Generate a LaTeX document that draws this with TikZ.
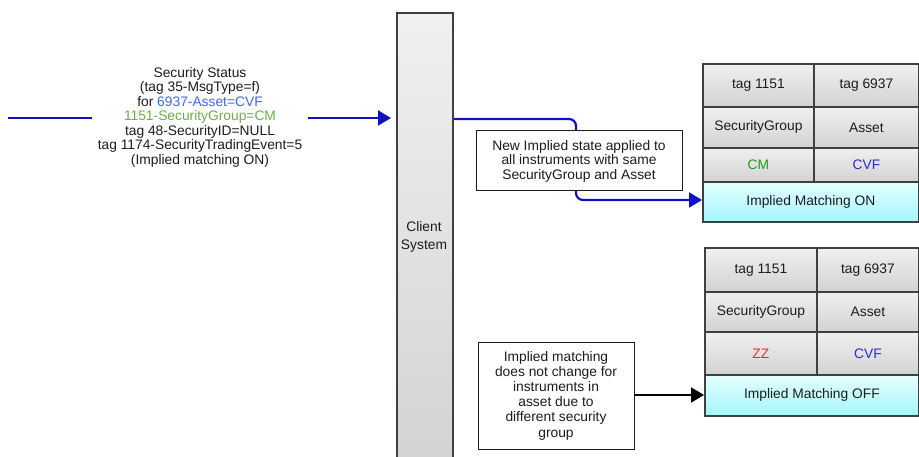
\documentclass[tikz,border=0pt]{standalone}
\usepackage{fontspec}
\setmainfont{Liberation Sans}
\usetikzlibrary{arrows.meta}
\definecolor{txt}{HTML}{1C1C1C}
\definecolor{edge}{HTML}{404040}
\definecolor{lnblue}{HTML}{1010C8}
\definecolor{msgblue}{HTML}{3F66F5}
\definecolor{msggreen}{HTML}{6CAE45}
\definecolor{cmgreen}{HTML}{1E9A1E}
\definecolor{cvfblue}{HTML}{2A2AD0}
\definecolor{zzred}{HTML}{F52A2A}
\definecolor{celltop}{HTML}{F0F0F0}
\definecolor{cellbot}{HTML}{D2D2D2}
\definecolor{cyantop}{HTML}{E4FFFF}
\definecolor{cyanbot}{HTML}{A4F6FC}
\tikzset{
  every node/.style={font=\fontsize{13.8}{14.5}\selectfont, text=txt},
  cell/.style={draw=edge, line width=1.8pt, top color=celltop, bottom color=cellbot, anchor=north west, inner sep=0pt, align=center},
  cyancell/.style={draw=edge, line width=1.8pt, top color=cyantop, bottom color=cyanbot, anchor=north west, inner sep=0pt, align=center},
  notebox/.style={draw=txt, line width=1pt, fill=white, align=center, inner sep=0pt},
  blueline/.style={draw=lnblue, line width=2.2pt},
  tip/.style={-{Triangle[length=13pt,width=15pt]}},
}
\begin{document}
\begin{tikzpicture}[x=1pt,y=-1pt]
\useasboundingbox (0,0) rectangle (919,457);
\clip (0,0) rectangle (919,457);
% client system bar
\node[draw=edge, line width=2pt, top color=celltop, bottom color=cellbot, anchor=north west, minimum width=56pt, minimum height=470pt, inner sep=0pt] (bar) at (396,12) {};
\node[align=center, font=\fontsize{13.8}{18}\selectfont] (barlbl) at (424,237) {Client\\System};

% message
\coordinate (src) at (8,118);
\node[align=center, minimum width=216pt, inner sep=0pt] (msg) at (200,117) {Security Status\\(tag 35-MsgType=f)\\for \textcolor{msgblue}{6937-Asset=CVF}\\\textcolor{msggreen}{1151-SecurityGroup=CM}\\tag 48-SecurityID=NULL\\tag 1174-SecurityTradingEvent=5\\(Implied matching ON)};
\draw[blueline] (src) -- (msg.west |- src);
\draw[blueline, tip, shorten >=5pt] (msg.east |- src) -- (bar.west |- src);

% top table
\node[cell, minimum width=111pt, minimum height=43pt] (t11) at (702,63) {tag 1151};
\node[cell, minimum width=105pt, minimum height=43pt] (t12) at (813,63) {tag 6937};
\node[cell, minimum width=111pt, minimum height=41pt] (t21) at (702,106) {SecurityGroup};
\node[cell, minimum width=105pt, minimum height=41pt] (t22) at (813,106) {Asset};
\node[cell, minimum width=111pt, minimum height=34pt] (t31) at (702,147) {\textcolor{cmgreen}{CM}};
\node[cell, minimum width=105pt, minimum height=34pt] (t32) at (813,147) {\textcolor{cvfblue}{CVF}};
\node[cyancell, minimum width=216pt, minimum height=40pt] (t4) at (702,181) {Implied Matching ON};

% bottom table
\node[cell, minimum width=112pt, minimum height=44pt] (b11) at (704,247) {tag 1151};
\node[cell, minimum width=102pt, minimum height=44pt] (b12) at (816,247) {tag 6937};
\node[cell, minimum width=112pt, minimum height=40pt] (b21) at (704,291) {SecurityGroup};
\node[cell, minimum width=102pt, minimum height=40pt] (b22) at (816,291) {Asset};
\node[cell, minimum width=112pt, minimum height=43pt] (b31) at (704,331) {\textcolor{zzred}{ZZ}};
\node[cell, minimum width=102pt, minimum height=43pt] (b32) at (816,331) {\textcolor{cvfblue}{CVF}};
\node[cyancell, minimum width=214pt, minimum height=41pt] (b4) at (704,374) {Implied Matching OFF};

% blue connector to top table
\coordinate (bend) at (576,119);
\draw[blueline, tip, rounded corners=7pt] (bar.east |- bend) -- (bend) -- (576,200) -- (t4.west |- 0,200);

% top note
\node[notebox, minimum width=206pt, minimum height=60pt] (note1) at (579,161) {New Implied state applied to\\all instruments with same\\SecurityGroup and Asset};

% bottom note
\node[notebox, minimum width=156pt, minimum height=107pt, font=\fontsize{13.8}{15.2}\selectfont] (note2) at (556,395.5) {Implied matching\\does not change for\\instruments in\\asset due to\\different security\\group};
\draw[line width=2pt, draw=black, tip] (note2.east |- 0,395) -- (b4.west |- 0,395);
\end{tikzpicture}
\end{document}
